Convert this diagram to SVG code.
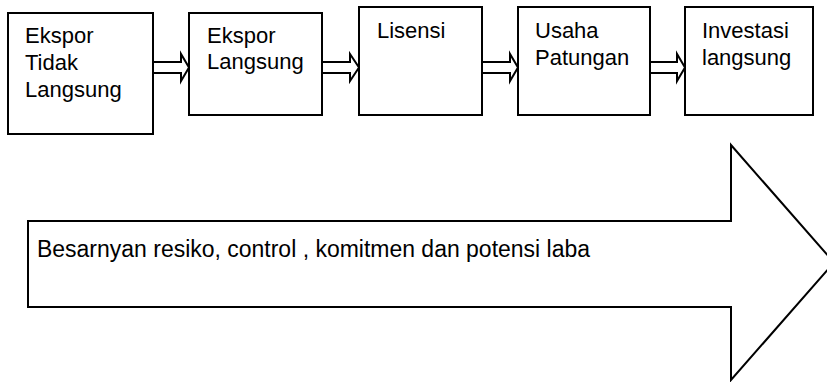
<svg xmlns="http://www.w3.org/2000/svg" width="827" height="382" viewBox="0 0 827 382">
<style>
.box{fill:#fff;stroke:#000;stroke-width:2}
.conn{fill:#fff;stroke:#000;stroke-width:2;stroke-linejoin:miter}
.t{font-family:"Liberation Sans",Arial,sans-serif;font-size:22px;fill:#000}
.big{font-family:"Liberation Sans",Arial,sans-serif;font-size:23px;fill:#000}
</style>
<rect width="827" height="382" fill="#fff"/>
<g id="big-arrow">
<polygon class="conn" points="28,221 731,221 731,145 834,262.5 731,380 731,307 28,307"/>
<text class="big" x="37" y="257" textLength="553" lengthAdjust="spacingAndGlyphs">Besarnyan resiko, control , komitmen dan potensi laba</text>
</g>
<g id="connectors">
<polygon class="conn" points="153,62 181,62 181,54 189,67.5 181,81 181,73 153,73"/>
<polygon class="conn" points="322,62 350,62 350,54 359,67.5 350,81 350,73 322,73"/>
<polygon class="conn" points="482,62 510,62 510,54 518,67.5 510,81 510,73 482,73"/>
<polygon class="conn" points="650,62 677,62 677,54 685,67.5 677,81 677,73 650,73"/>
</g>
<g id="n1">
<rect class="box" x="8" y="13" width="145" height="121"/>
<text class="t" x="25" y="43">Ekspor</text>
<text class="t" x="25" y="70">Tidak</text>
<text class="t" x="25" y="97">Langsung</text>
</g>
<g id="n2">
<rect class="box" x="189" y="13" width="133" height="102"/>
<text class="t" x="207" y="43">Ekspor</text>
<text class="t" x="207" y="69">Langsung</text>
</g>
<g id="n3">
<rect class="box" x="359" y="7" width="123" height="108"/>
<text class="t" x="377" y="38">Lisensi</text>
</g>
<g id="n4">
<rect class="box" x="518" y="7" width="132" height="108"/>
<text class="t" x="535" y="38">Usaha</text>
<text class="t" x="535" y="65">Patungan</text>
</g>
<g id="n5">
<rect class="box" x="685" y="7" width="128" height="108"/>
<text class="t" x="702" y="38">Investasi</text>
<text class="t" x="702" y="65">langsung</text>
</g>
</svg>
